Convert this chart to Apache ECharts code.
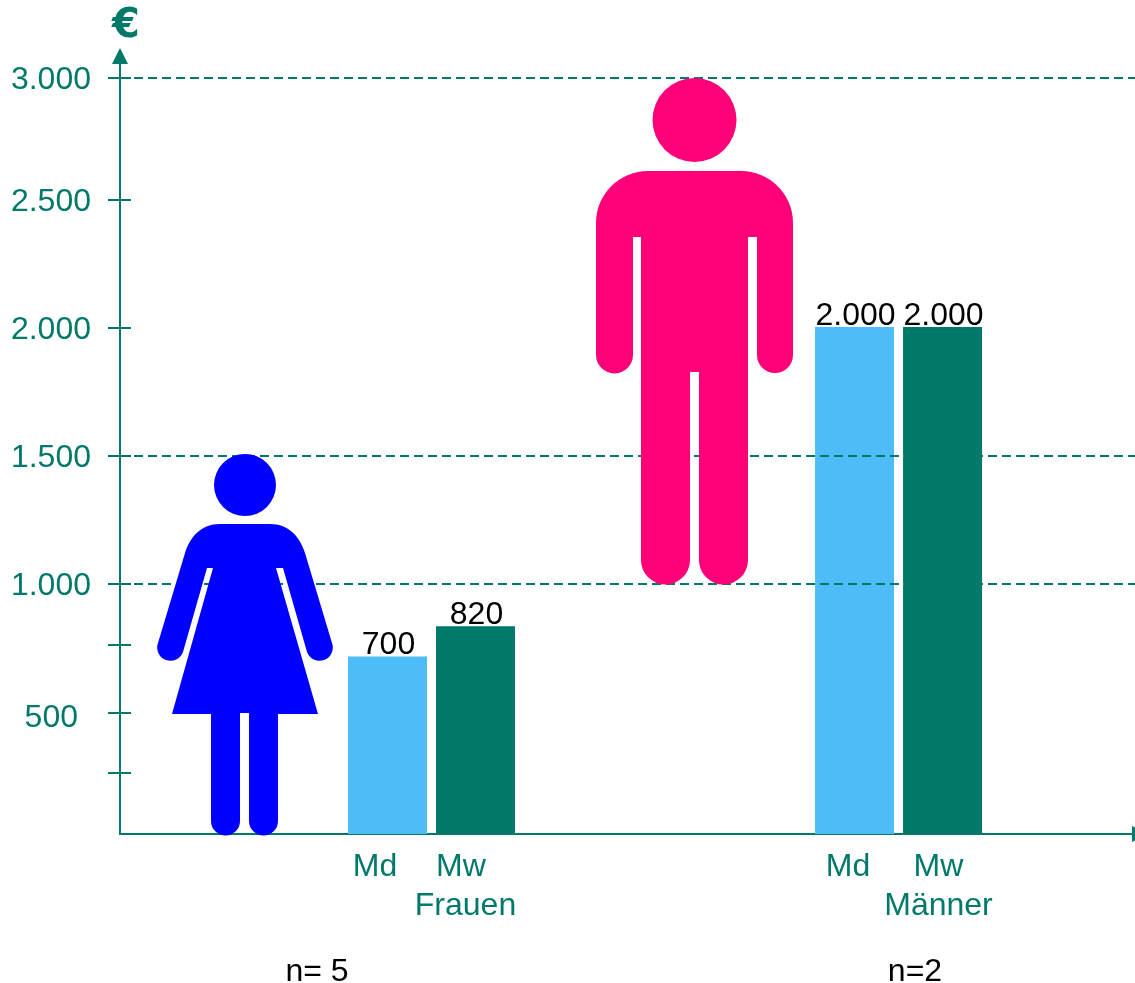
<!DOCTYPE html>
<html lang="de">
<head>
<meta charset="utf-8">
<title>Einkommen nach Geschlecht</title>
<style>
  html, body { margin: 0; padding: 0; background: #fff; }
  #chart { width: 1135px; height: 983px; }
</style>
<script src="https://cdn.jsdelivr.net/npm/echarts@6/dist/echarts.min.js"></script>
</head>
<body>
<div id="chart"></div>
<script>
// Values per group
const groups = ['Frauen', 'Männer'];
const sampleSizes = ['n= 5', 'n=2'];
const medians = [700, 2000];
const means = [820, 2000];

// Axis marks as they sit on the hand-placed scale
const tickValues = [241, 477, 746, 986, 1491, 1996, 2501, 2982];
const labelValues = [465, 986, 1491, 1996, 2501, 2982];
const dashedValues = [986, 1491, 2982];

const TEAL = '#00796b';
const SKY = '#4dbcf7';
const FONT = '"Liberation Sans", Arial, sans-serif';

// Person pictograms, in page pixels
const womanPath =
  'M220 524 L270 524 C289 524 300 537 305 553 L332 643 A13 13 0 0 1 307 652 L283 568 L276 568 L318 714 ' +
  'L278 714 L278 821 A14.5 14.5 0 0 1 249 821 L249 713 L240 713 L240 821 A14.5 14.5 0 0 1 211 821 ' +
  'L211 714 L172 714 L213 568 L207 568 L183 652 A13 13 0 0 1 158 643 L185 553 C190 537 201 524 220 524 Z ' +
  'M214 485 A31 31 0 1 1 276 485 A31 31 0 1 1 214 485 Z';
const manPath =
  'M648 171 L741 171 A52 52 0 0 1 793 223 L793 355 A18 18 0 0 1 757 355 L757 237 L748 237 L748 560 ' +
  'A24.5 24.5 0 0 1 699 560 L699 372 L690 372 L690 560 A24.5 24.5 0 0 1 641 560 L641 237 L633 237 ' +
  'L633 355 A18.5 18.5 0 0 1 596 355 L596 223 A52 52 0 0 1 648 171 Z ' +
  'M652.5 120 A42 42 0 1 1 736.5 120 A42 42 0 1 1 652.5 120 Z';

const germanNumber = v => String(v).replace(/\B(?=(\d{3})+$)/g, '.');

function caption(text, x, y, fill) {
  return {
    type: 'text', z: 20, silent: true,
    style: { text, x, y, align: 'center', verticalAlign: 'middle', font: '32px ' + FONT, fill }
  };
}

function personSeries(pathData, fill) {
  return {
    type: 'custom', coordinateSystem: 'none', silent: true, z: 5, data: [0],
    renderItem: () => ({ type: 'path', shape: { pathData }, style: { fill } })
  };
}

function barSeries(name, values, color, labelOffsetX) {
  return {
    type: 'bar', name, z: 3, silent: true,
    barWidth: 79, barGap: '11.4%',
    itemStyle: { color },
    label: {
      show: true, position: 'top', distance: -5, offset: [labelOffsetX, 0], color: '#000',
      fontFamily: FONT, fontSize: 32,
      formatter: p => germanNumber(p.value[1])
    },
    data: values.map((v, i) => [i + 1, v])
  };
}

const yScale = { type: 'value', position: 'left', min: 0, max: 3069 };

const chart = echarts.init(document.getElementById('chart'), null, { renderer: 'canvas' });
chart.setOption({
  animation: false,
  backgroundColor: '#fff',
  grid: { left: 120, top: 56, width: 1020, height: 778, containLabel: false, outerBoundsMode: 'none' },
  xAxis: {
    type: 'value', min: 0.333, max: 2.517,
    splitLine: { show: false }, axisTick: { show: false }, axisLabel: { show: false },
    axisLine: {
      show: true, onZero: false, symbol: ['none', 'triangle'], symbolSize: [16, 16],
      lineStyle: { color: TEAL, width: 2 }
    }
  },
  yAxis: [
    {
      ...yScale,
      name: '€',
      nameLocation: 'end',
      nameGap: 9,
      nameTextStyle: { color: TEAL, fontFamily: '"DejaVu Sans"', fontWeight: 'bold', fontSize: 40, align: 'left', padding: [0, 0, 0, -8] },
      splitLine: { show: false },
      axisLine: {
        show: true, symbol: ['none', 'triangle'], symbolSize: [16, 16],
        lineStyle: { color: TEAL, width: 2 }
      },
      axisTick: { show: true, length: 12, customValues: tickValues, lineStyle: { color: TEAL, width: 2 } },
      axisLabel: {
        show: true, margin: 29, customValues: labelValues,
        color: TEAL, fontFamily: FONT, fontSize: 32, padding: [4, 0, 0, 0],
        formatter: v => {
          const shown = Math.round(v / 500) * 500;
          return shown === 500 ? '{short|500}' : germanNumber(shown);
        },
        rich: { short: { color: TEAL, fontFamily: FONT, fontSize: 32, padding: [0, 13, 0, 0] } }
      }
    },
    {
      // Inner half of the tick marks, so they cross the axis line
      ...yScale,
      splitLine: { show: false }, axisLine: { show: false }, axisLabel: { show: false },
      axisTick: { show: true, inside: true, length: 11, customValues: tickValues, lineStyle: { color: TEAL, width: 2 } }
    }
  ],
  series: [
    {
      type: 'line', silent: true, z: 1, data: [],
      markLine: {
        silent: true, symbol: 'none', animation: false,
        label: { show: false },
        lineStyle: { color: TEAL, width: 2, type: [9, 5] },
        data: dashedValues.map(v => ({ yAxis: v }))
      }
    },
    barSeries('Md', medians, SKY, 1),
    barSeries('Mw', means, TEAL, 1),
    personSeries(womanPath, '#0000ff'),
    personSeries(manPath, '#ff0078')
  ],
  graphic: { elements: [
    caption('Md', 375, 867, TEAL),
    caption('Mw', 461, 867, TEAL),
    caption(groups[0], 465.5, 906, TEAL),
    caption('Md', 848, 867, TEAL),
    caption('Mw', 938.5, 867, TEAL),
    caption(groups[1], 938.5, 906, TEAL),
    caption(sampleSizes[0], 317, 972, '#000'),
    caption(sampleSizes[1], 915, 972, '#000')
  ] }
});
</script>
</body>
</html>
